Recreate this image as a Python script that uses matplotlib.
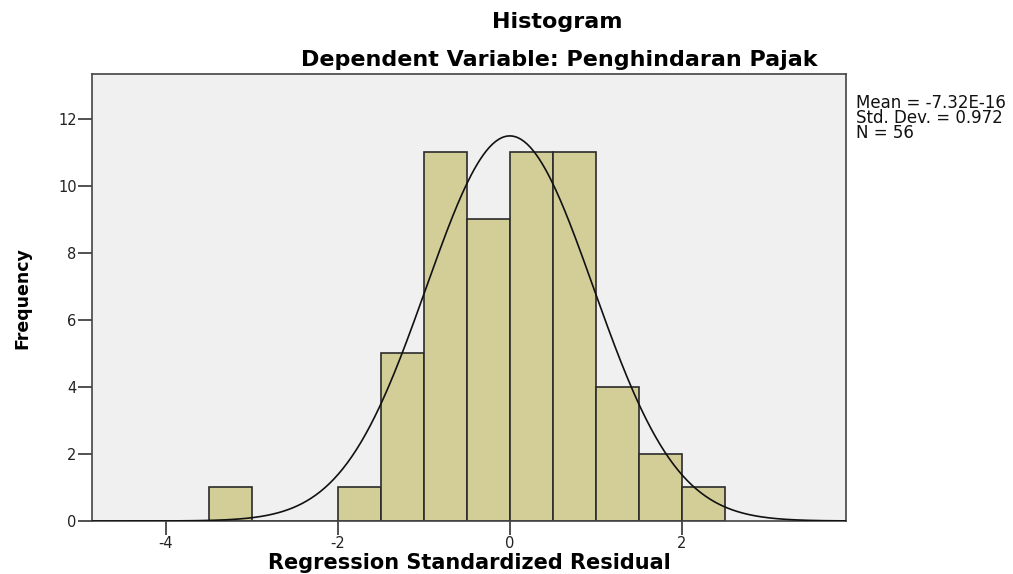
import numpy as np
import matplotlib
matplotlib.use("Agg")
import matplotlib.pyplot as plt

plt.rcParams['font.family'] = ['DejaVu Sans']

bin_edges = [-3.5, -3.0, -2.5, -2.0, -1.5, -1.0, -0.5, 0.0, 0.5, 1.0, 1.5, 2.0, 2.5]
counts = [1, 0, 0, 1, 5, 11, 9, 11, 11, 4, 2, 1]
mean = -7.32e-16
std = 0.972
n = 56
x_ticks = [-4, -2, 0, 2]
y_ticks = [0, 2, 4, 6, 8, 10, 12]

fig = plt.figure(figsize=(10.13, 5.74), dpi=100)
ax = fig.add_axes([92/1013, 53/574, (846-92)/1013, (521-74)/574])
ax.set_facecolor('#f0f0f0')

lefts = np.array(bin_edges[:-1])
widths = np.diff(bin_edges)
ax.bar(lefts, counts, width=widths, align='edge', color='#d3ce98',
       edgecolor='#2b2b2b', linewidth=1.2, zorder=2)

bw = widths[0]
xs = np.linspace(-4.86, 3.91, 500)
ys = n * bw * np.exp(-0.5 * ((xs - mean) / std) ** 2) / (std * np.sqrt(2 * np.pi))
ax.plot(xs, ys, color='#111111', linewidth=1.2, zorder=3)

ax.set_xlim(-4.86, 3.91)
ax.set_ylim(0, 13.34)
ax.set_xticks(x_ticks)
ax.set_yticks(y_ticks)
ax.set_xticklabels([str(t) for t in x_ticks], fontsize=10.5, color='#222222')
ax.set_yticklabels([str(t) for t in y_ticks], fontsize=10.5, color='#222222')
ax.tick_params(direction='out', length=10, width=1.2, color='#333333', pad=1)
for s in ax.spines.values():
    s.set_color('#444444')
    s.set_linewidth(1.2)

fig.text(469/1013, 1/574, 'Regression Standardized Residual', ha='center', va='bottom',
         fontsize=15, fontweight='bold')
fig.text(22/1013, 1 - 298/574, 'Frequency', ha='center', va='center', rotation=90,
         fontsize=12.5, fontweight='bold')

fig.text(557/1013, 1 - 22/574, 'Histogram', ha='center', va='center', fontsize=16, fontweight='bold')
fig.text(559/1013, 1 - 60/574, 'Dependent Variable: Penghindaran Pajak', ha='center', va='center',
         fontsize=16, fontweight='bold')

fig.text(856/1013, 1 - 118/574, 'Mean = -7.32E-16\nStd. Dev. = 0.972\nN = 56',
         ha='left', va='center', fontsize=12, linespacing=0.78, color='#111111')

fig.savefig('out.png', dpi=100)
